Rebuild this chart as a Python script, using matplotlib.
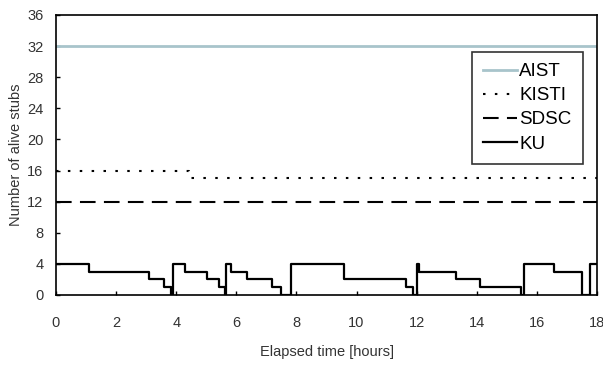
import matplotlib
matplotlib.use("Agg")
import matplotlib.pyplot as plt

plt.rcParams['font.family'] = ['Liberation Sans', 'DejaVu Sans']

# KU step data: (start time, value) each value holds until next start
ku_t = [0, 1.11, 3.11, 3.58, 3.84, 3.90, 4.30, 5.01, 5.41, 5.63, 5.67, 5.82, 6.36, 7.20, 7.48,
        7.83, 9.59, 11.66, 11.87, 12.00, 12.08, 13.31, 14.10, 15.47, 15.56, 16.56, 17.50, 17.78, 18.0]
ku_v = [4, 3, 2, 1, 0, 4, 3, 2, 1, 0, 4, 3, 2, 1, 0,
        4, 2, 1, 0, 4, 3, 2, 1, 0, 4, 3, 0, 4, 4]

kisti_t = [0, 4.41, 18.0]
kisti_v = [16, 15, 15]
sdsc_t = [0, 18.0]
sdsc_v = [12, 12]
aist_t = [0, 18.0]
aist_v = [32, 32]

fig = plt.figure(figsize=(6.03, 3.73), dpi=100)
ax = fig.add_axes([56/603, 1-295/373, 541/603, 280/373])

ax.step(aist_t, aist_v, where='post', color='#a8c4cb', lw=2.0, label='AIST')
ax.step(kisti_t, kisti_v, where='post', color='black', lw=1.5, linestyle=(0, (1.2, 4.5)), label='KISTI')
ax.step(sdsc_t, sdsc_v, where='post', color='black', lw=1.5, linestyle=(0, (7.5, 4)), label='SDSC')
ax.step(ku_t, ku_v, where='post', color='black', lw=1.6, label='KU')

ax.set_xlim(0, 18)
ax.set_ylim(0, 36)
ax.set_xticks(range(0, 19, 2))
ax.set_yticks(range(0, 37, 4))
ax.tick_params(direction='in', length=3, labelsize=10.5, width=1, labelcolor='#333333')
ax.tick_params(axis='x', pad=15)
ax.tick_params(axis='y', pad=9)
for s in ax.spines.values():
    s.set_linewidth(1.2)

ax.set_xlabel('Elapsed time [hours]', fontsize=10.5, color='#333333', labelpad=11)
ax.set_ylabel('Number of alive stubs', fontsize=10.5, color='#333333', labelpad=3)

leg = ax.legend(loc='upper right', bbox_to_anchor=(0.974, 0.868), fontsize=13.5, frameon=True,
                fancybox=False, edgecolor='black', handlelength=1.8, handletextpad=0.15,
                borderpad=0.6, labelspacing=0.37, borderaxespad=0)
leg.get_frame().set_linewidth(1.2)

fig.savefig('out.png', dpi=100)
